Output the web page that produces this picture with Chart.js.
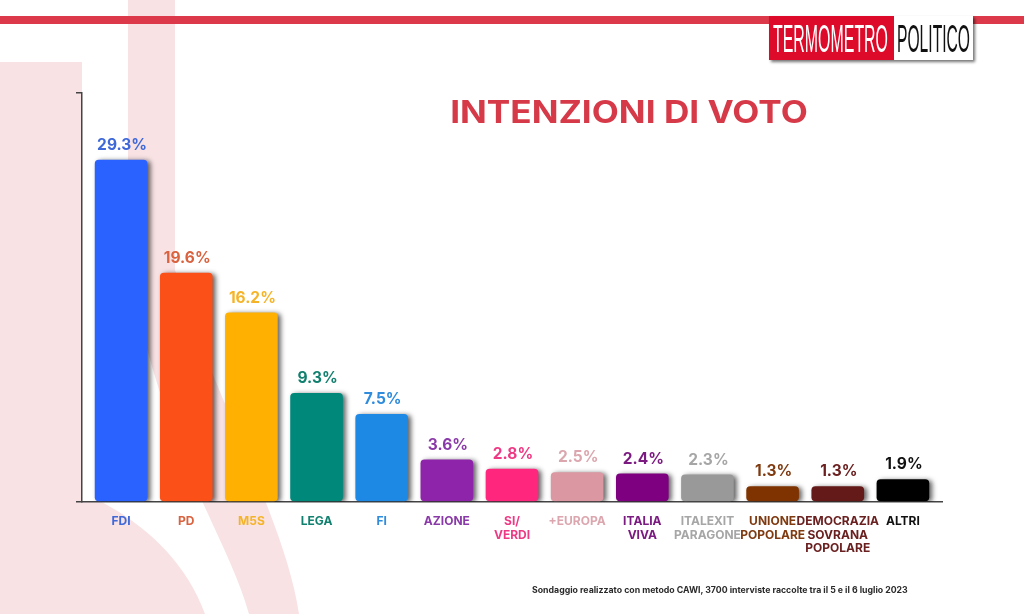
<!DOCTYPE html>
<html><head><meta charset="utf-8">
<script src="https://cdn.jsdelivr.net/npm/chart.js@4"></script>
<style>
html,body{margin:0;padding:0;background:#fff;}
#wrap{position:relative;width:1024px;height:614px;overflow:hidden;font-family:Inter,"Open Sans",sans-serif;}
#bg,#logo{position:absolute;left:0;top:0;}
#c{position:absolute;left:0;top:0;}
#title{position:absolute;left:380px;width:498px;top:93px;text-align:center;font-weight:700;font-size:31px;line-height:38px;color:#d63a49;white-space:nowrap;transform:scaleX(1.135);}
#foot{position:absolute;left:532px;top:584px;font-weight:700;font-size:8.75px;line-height:12px;color:#2a2a2a;white-space:nowrap;}
</style></head>
<body>
<div id="wrap">
<svg id="bg" width="1024" height="614">
<path fill="#f8e2e4" d="M0 62H82V501H100C145 525 185 560 205 614H0Z"/>
<path fill="#f8e2e4" d="M128 0H175V270C215 400 285 520 299 614H249C225 530 170 470 128 270Z"/>
<rect x="0" y="16" width="1024" height="8" fill="#dc3a4a"/>
</svg>
<canvas id="c" width="1024" height="614"></canvas>
<div id="title">INTENZIONI DI VOTO</div>
<div id="foot">Sondaggio realizzato con metodo CAWI, 3700 interviste raccolte tra il 5 e il 6 luglio 2023</div>
<svg id="logo" width="1024" height="80">
<defs><filter id="s" x="-5%" y="-10%" width="115%" height="130%"><feDropShadow dx="2" dy="2" stdDeviation="1.5" flood-color="#000" flood-opacity=".55"/></filter></defs>
<rect x="769" y="16" width="204" height="44" fill="#fff" filter="url(#s)"/>
<rect x="769" y="16" width="125" height="44" fill="#dd0a2a"/>
<text x="773" y="52" font-family="Liberation Sans" font-size="38" fill="#fff" textLength="115" lengthAdjust="spacingAndGlyphs">TERMOMETRO</text>
<text x="897" y="52" font-family="Liberation Sans" font-size="38" fill="#111" textLength="73" lengthAdjust="spacingAndGlyphs">POLITICO</text>
</svg>
</div>
<script>
const categories=[["FDI"],["PD"],["M5S"],["LEGA"],["FI"],["AZIONE"],["SI/","VERDI"],["+EUROPA"],["ITALIA","VIVA"],["ITALEXIT","PARAGONE"],["UNIONE","POPOLARE"],["DEMOCRAZIA","SOVRANA","POPOLARE"],["ALTRI"]];
const values=[29.3,19.6,16.2,9.3,7.5,3.6,2.8,2.5,2.4,2.3,1.3,1.3,1.9];
const barColors=["#2962ff","#fb5018","#ffb000","#00897b","#1e88e5","#8e24aa","#ff267e","#db98a2","#7e0080","#999999","#7f3300","#651a1a","#000000"];
const textColors=["#3f68d8","#d9623f","#f5b428","#12806f","#2f8cdc","#8a3aa8","#ee3a84","#dba6ae","#7b1a80","#a6a6a6","#7f3a10","#6b2020","#111111"];
const yTicks=[0,35.1];

const barShadow={id:'barShadow',
 beforeDatasetsDraw(c){const x=c.ctx;x.save();x.shadowColor='rgba(0,0,0,.62)';x.shadowBlur=5;x.shadowOffsetX=3;x.shadowOffsetY=1;},
 afterDatasetsDraw(c){c.ctx.restore();}};
const valueLabels={id:'valueLabels',
 afterDraw(c){const x=c.ctx,m=c.getDatasetMeta(0);x.save();x.font='700 15.5px Inter';x.textAlign='center';x.textBaseline='bottom';
  m.data.forEach((b,i)=>{x.fillStyle=textColors[i];x.fillText(values[i].toFixed(1)+'%',b.x+1,b.y-7);});x.restore();}};

new Chart(document.getElementById('c'),{
 type:'bar',
 data:{datasets:[{data:values.map((v,i)=>({x:i,y:v})),backgroundColor:barColors,barThickness:52,borderRadius:4,borderSkipped:false}]},
 plugins:[barShadow,valueLabels],
 options:{responsive:false,animation:false,devicePixelRatio:1,
  layout:{padding:{top:92.5,right:82,left:0,bottom:0}},
  plugins:{legend:{display:false},tooltip:{enabled:false}},
  scales:{
   x:{type:'linear',offset:false,min:-0.6,max:12.6,
    border:{display:true,color:'#444',width:1.5},
    grid:{display:false,offset:false},
    afterFit(s){s.height=112.3;},
    ticks:{stepSize:1,includeBounds:false,autoSkip:false,maxRotation:0,minRotation:0,padding:5.5,
     font:{family:'Inter',weight:'700',size:12,lineHeight:1.1},
     color:ctx=>textColors[ctx.tick.value],
     callback:v=>categories[v]}},
   y:{min:0,max:35.1,
    border:{display:true,color:'#444',width:1.5},
    grid:{display:true,drawOnChartArea:false,drawTicks:true,tickLength:6,color:'#444',lineWidth:1.5},
    afterFit(s){s.width=82;},
    afterBuildTicks(s){s.ticks=yTicks.map(v=>({value:v}));},
    ticks:{display:false}}
  }}
});
</script>
</body></html>
